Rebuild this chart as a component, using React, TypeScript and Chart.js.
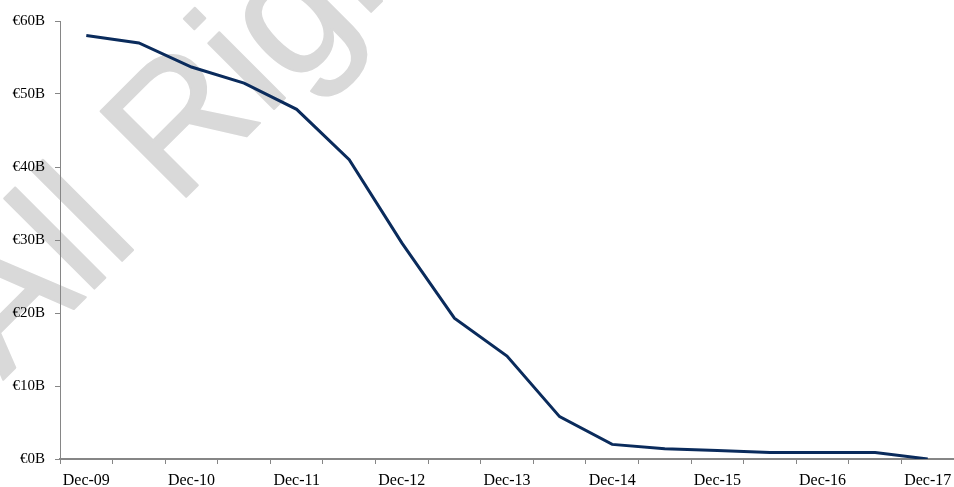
import React, { useEffect, useRef } from "react";
import { Chart, registerables } from "chart.js";

Chart.register(...registerables);

// Half-yearly periods (only the December ones carry a visible label)
const periods = [
  "Dec-09", "Jun-10", "Dec-10", "Jun-11", "Dec-11", "Jun-12", "Dec-12", "Jun-13",
  "Dec-13", "Jun-14", "Dec-14", "Jun-15", "Dec-15", "Jun-16", "Dec-16", "Jun-17", "Dec-17",
];

// Outstanding amount, in billions of euro
const outstandingBn = [
  58.0, 57.0, 53.7, 51.5, 47.9, 41.0, 29.6, 19.3,
  14.1, 5.8, 2.0, 1.4, 1.15, 0.9, 0.9, 0.9, 0.0,
];

const yTickValues = [0, 10, 20, 30, 40, 50, 60];

const watermarkText = "All Rights Reserved";

const serif = "'Liberation Serif', 'Times New Roman', serif";
const axisGrey = "#868686";

const watermarkPlugin = {
  id: "watermark",
  beforeDraw(chart: Chart) {
    const ctx = chart.ctx;
    ctx.save();
    ctx.translate(3, 380);
    ctx.rotate(-Math.PI / 4);
    ctx.font = "176px 'Liberation Sans', Arial, sans-serif";
    ctx.fillStyle = "#d9d9d9";
    ctx.strokeStyle = "#d9d9d9";
    ctx.lineWidth = 2;
    ctx.lineJoin = "round";
    ctx.textBaseline = "alphabetic";
    ctx.textAlign = "left";
    ctx.fillText(watermarkText, 0, 0);
    ctx.strokeText(watermarkText, 0, 0);
    ctx.restore();
  },
};

export default function App() {
  const canvasRef = useRef<HTMLCanvasElement | null>(null);

  useEffect(() => {
    if (!canvasRef.current) return;
    const chart = new Chart(canvasRef.current, {
      type: "line",
      data: {
        labels: periods,
        datasets: [
          {
            data: outstandingBn,
            borderColor: "#0a2b5c",
            borderWidth: 3,
            pointRadius: 0,
            tension: 0,
            fill: false,
          },
        ],
      },
      plugins: [watermarkPlugin],
      options: {
        animation: false,
        responsive: false,
        maintainAspectRatio: false,
        devicePixelRatio: 1,
        layout: { padding: { top: 21, right: 0, left: 0, bottom: 0 } },
        plugins: {
          legend: { display: false },
          tooltip: { enabled: false },
        },
        scales: {
          x: {
            type: "category",
            offset: true,
            grid: {
              offset: true,
              drawOnChartArea: false,
              drawTicks: true,
              tickLength: 5,
              color: axisGrey,
              lineWidth: 1,
            },
            border: { display: true, color: axisGrey, width: 2 },
            ticks: {
              autoSkip: false,
              maxRotation: 0,
              minRotation: 0,
              padding: 7,
              color: "#000",
              font: { family: serif, size: 16 },
              callback: (_v: any, i: number) =>
                periods[i].startsWith("Dec") ? periods[i] : "",
            },
            afterFit: (scale: any) => {
              scale.height = 28;
              scale.paddingLeft = 0;
              scale.paddingRight = 0;
            },
          },
          y: {
            min: 0,
            max: 60,
            afterBuildTicks: (scale: any) => {
              scale.ticks = yTickValues.map((v) => ({ value: v }));
            },
            grid: {
              drawOnChartArea: false,
              drawTicks: true,
              tickLength: 5,
              color: axisGrey,
              lineWidth: 1,
            },
            border: { display: true, color: axisGrey, width: 1 },
            ticks: {
              padding: 10,
              color: "#000",
              font: { family: serif, size: 15 },
              callback: (v: any) => "€" + v + "B",
            },
            afterFit: (scale: any) => {
              scale.width = 60;
            },
          },
        },
      },
    });
    return () => chart.destroy();
  }, []);

  return (
    <div style={{ position: "absolute", left: 0, top: 0, width: 954, height: 487 }}>
      <canvas ref={canvasRef} width={954} height={487} style={{ width: 954, height: 487 }} />
    </div>
  );
}
